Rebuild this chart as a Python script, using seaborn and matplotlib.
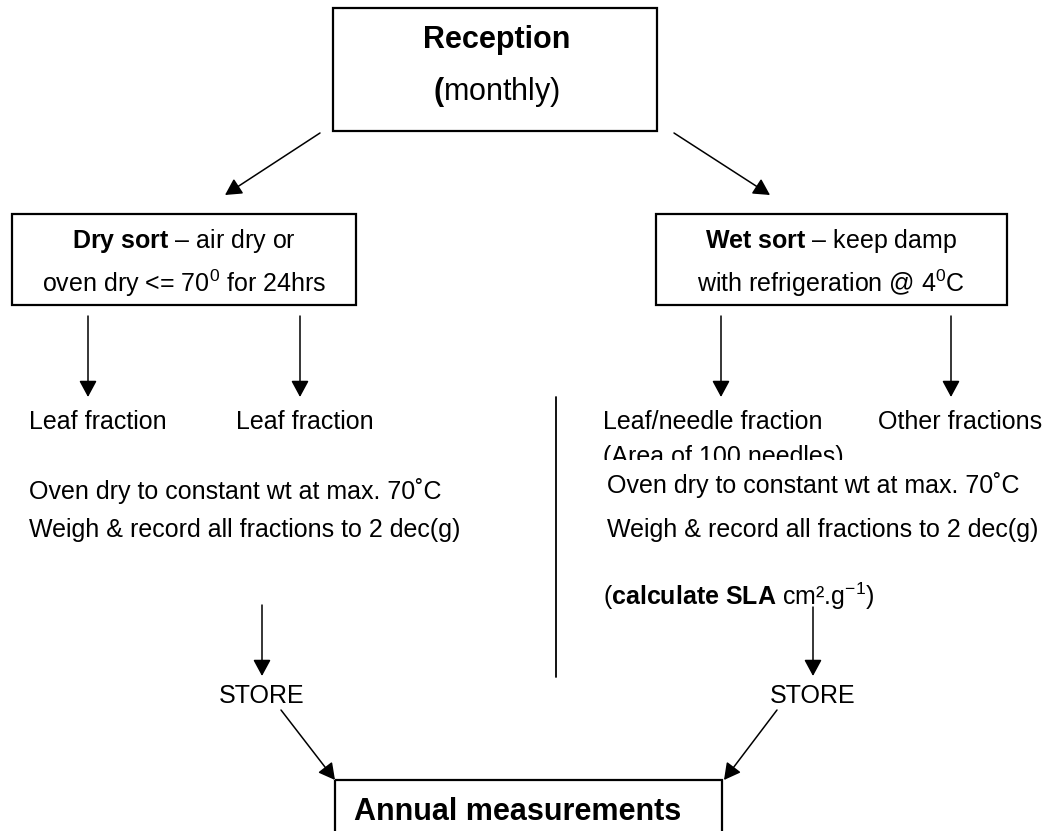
import matplotlib
matplotlib.use("Agg")
import matplotlib.pyplot as plt
import seaborn as sns
from matplotlib.patches import Rectangle

# --- diagram content (labels only) ---
top_label = ["Reception", "$\\mathbf{(}$monthly)"]
dry_label = ["$\\mathbf{Dry\\ sort}$ \u2013 air dry or", "oven dry <= 70$^{0}$ for 24hrs"]
wet_label = ["$\\mathbf{Wet\\ sort}$ \u2013 keep damp", "with refrigeration @ 4$^{0}$C"]
dry_fractions = ["Leaf fraction", "Leaf fraction"]
wet_fractions = ["Leaf/needle fraction", "Other fractions"]
needle_note = "(Area of 100 needles)"
process_steps = ["Oven dry to constant wt at max. 70\u02daC",
                 "Weigh & record all fractions to 2 dec(g)"]
sla_note = "($\\mathbf{calculate\\ SLA}$ cm\u00b2.g$^{-1}$)"
store_label = "STORE"
final_label = "Annual measurements"

# --- layout in pixel units (figure is 1049 x 831) ---
W, H = 1049, 831
boxes = {"top": (333, 8, 324, 123), "dry": (12, 214, 344, 91),
         "wet": (656, 214, 351, 91), "final": (335, 780, 387, 120)}
fraction_x = {"dry": [88, 300], "wet": [721, 951]}
store_x = {"dry": 262, "wet": 813}

sns.set_theme(style="white")
plt.rcParams["font.family"] = ["Liberation Sans", "DejaVu Sans"]
plt.rcParams["text.color"] = "black"
plt.rcParams["mathtext.fontset"] = "custom"
plt.rcParams["mathtext.rm"] = "Liberation Sans"
plt.rcParams["mathtext.bf"] = "Liberation Sans:bold"
plt.rcParams["mathtext.it"] = "Liberation Sans:italic"

fig = plt.figure(figsize=(W / 100, H / 100), dpi=100)
ax = fig.add_axes([0, 0, 1, 1])
ax.set_xlim(0, W)
ax.set_ylim(H, 0)
ax.axis("off")

def box(key):
    x, y, w, h = boxes[key]
    ax.add_patch(Rectangle((x, y), w, h, fill=False, ec="black", lw=1.6))

def arrow(start, end):
    ax.annotate("", xy=end, xytext=start,
                arrowprops=dict(arrowstyle="-|>,head_length=0.5,head_width=0.27",
                                color="black", lw=1.1, mutation_scale=20,
                                shrinkA=0, shrinkB=0))

txt = dict(fontsize=18, color="black", va="baseline")

# top box
box("top")
ax.text(497, 48, top_label[0], fontsize=22, fontweight="bold", color="black",
        ha="center", va="baseline")
ax.text(497, 100, top_label[1], fontsize=22, color="black", ha="center", va="baseline")
arrow((320, 133), (225, 195))
arrow((674, 133), (770, 195))

# sort boxes
box("dry")
box("wet")
for i, yb in enumerate([248, 292]):
    ax.text(184, yb, dry_label[i], ha="center", **txt)
    ax.text(831, yb, wet_label[i], ha="center", **txt)

# fractions
for key in ["dry", "wet"]:
    for xa in fraction_x[key]:
        arrow((xa, 316), (xa, 397))
ax.text(29, 429, dry_fractions[0], ha="left", **txt)
ax.text(236, 429, dry_fractions[1], ha="left", **txt)
ax.text(603, 429, wet_fractions[0], ha="left", **txt)
ax.text(878, 429, wet_fractions[1], ha="left", **txt)

# clipped note under the needle fraction
ax.text(603, 464, needle_note, ha="left", zorder=2, **txt)
ax.add_patch(Rectangle((595, 459.5), 280, 14, fc="white", ec="none", zorder=3))

# divider
ax.plot([556, 556], [397, 677], color="black", lw=1.3)

# processing steps
ax.text(29, 499, process_steps[0], ha="left", zorder=4, **txt)
ax.text(29, 537, process_steps[1], ha="left", **txt)
ax.text(607, 493, process_steps[0], ha="left", zorder=4, **txt)
ax.text(607, 537, process_steps[1], ha="left", **txt)
ax.text(603, 605, sla_note, ha="left", **txt)

# store
arrow((store_x["dry"], 605), (store_x["dry"], 676))
arrow((store_x["wet"], 607), (store_x["wet"], 676))
ax.text(store_x["dry"], 703, store_label, ha="center", **txt)
ax.text(store_x["wet"], 703, store_label, ha="center", **txt)
arrow((281, 710), (335, 780))
arrow((777, 710), (724, 780))

# final box
box("final")
ax.text(518, 820, final_label, fontsize=22, fontweight="bold", color="black",
        ha="center", va="baseline")

fig.savefig("out.png", dpi=100, facecolor="white")
